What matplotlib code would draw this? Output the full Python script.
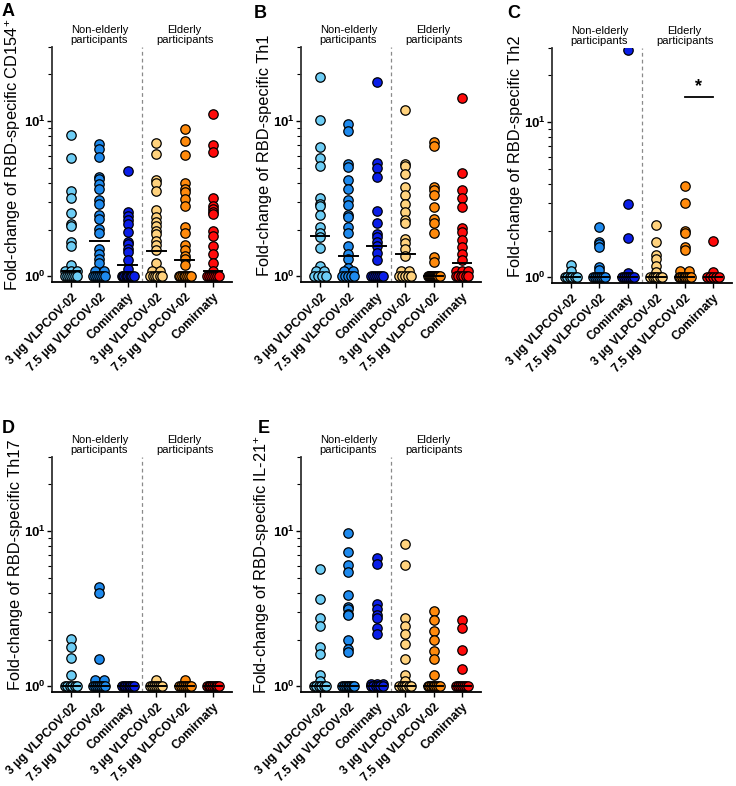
import numpy as np
import matplotlib
matplotlib.use("Agg")
import matplotlib.pyplot as plt
from matplotlib.ticker import LogLocator, NullFormatter

plt.rcParams['font.family'] = ['Liberation Sans', 'DejaVu Sans']
plt.rcParams['mathtext.fontset'] = 'custom'
plt.rcParams['mathtext.rm'] = 'Liberation Sans'
plt.rcParams['mathtext.bf'] = 'Liberation Sans:bold'

groups = ['3 µg VLPCOV-02', '7.5 µg VLPCOV-02', 'Comirnaty',
          '3 µg VLPCOV-02', '7.5 µg VLPCOV-02', 'Comirnaty']
colors = ['#6DCDF5', '#1E8AEE', '#0A1EE8', '#FFD27D', '#FF8A0C', '#FF0A0A']

# A: CD154+
A1 = [8.1, 5.8, 3.56, 3.19, 2.55, 2.18, 2.10, 1.66, 1.58, 1.18, 1.08, 1.08, 1.08, 1, 1, 1, 1, 1, 1, 1]
A2 = [7.08, 6.58, 5.88, 4.38, 4.23, 3.93, 3.65, 3.12, 2.92, 2.48, 2.34, 2.02, 1.90, 1.50, 1.40, 1.30,
      1.22, 1.09, 1.09, 1, 1, 1, 1, 1, 1, 1]
A3 = [4.78, 2.58, 2.46, 2.29, 2.18, 1.92, 1.66, 1.62, 1.50, 1.43, 1.27, 1.12, 1, 1, 1, 1, 1, 1, 1, 1, 1, 1]
A4 = [7.19, 6.18, 4.17, 3.97, 3.56, 2.67, 2.40, 2.23, 2.12, 1.97, 1.88, 1.68, 1.60, 1.48, 1.22, 1.09,
      1.09, 1, 1, 1, 1, 1, 1]
A5 = [8.93, 7.45, 6.05, 3.97, 3.68, 3.47, 3.15, 2.83, 2.07, 1.90, 1.60, 1.48, 1.36, 1.30, 1.19,
      1, 1, 1, 1, 1, 1, 1, 1]
A6 = [11.1, 7.02, 6.36, 3.18, 2.83, 2.72, 2.58, 2.52, 1.97, 1.83, 1.58, 1.40, 1.22, 1.09, 1, 1, 1, 1, 1, 1, 1]
A_med = [1.08, 1.70, 1.18, 1.45, 1.28, 1.08]

# B: Th1
B1 = [19.2, 10.1, 6.81, 5.77, 5.15, 3.19, 2.92, 2.85, 2.50, 2.07, 1.90, 1.79, 1.52, 1.17, 1.08, 1.08, 1, 1, 1, 1]
B2 = [9.61, 8.63, 5.33, 5.07, 4.17, 3.65, 3.10, 2.89, 2.48, 2.40, 2.07, 1.90, 1.58, 1.40, 1.30, 1.14,
      1.08, 1.08, 1, 1, 1, 1, 1]
B3 = [17.9, 5.36, 5.02, 4.38, 2.65, 2.20, 1.88, 1.79, 1.66, 1.58, 1.41, 1.27, 1, 1, 1, 1, 1, 1, 1]
B4 = [11.8, 5.33, 5.15, 4.55, 3.79, 3.36, 2.92, 2.58, 2.29, 2.20, 1.74, 1.64, 1.50, 1.36, 1.09, 1.09, 1, 1, 1, 1, 1]
B5 = [7.37, 6.92, 3.74, 3.59, 3.36, 2.81, 2.34, 2.20, 1.90, 1.34, 1.24, 1, 1, 1, 1, 1, 1, 1, 1, 1, 1, 1, 1]
B6 = [14.0, 4.62, 3.59, 3.19, 2.78, 2.05, 1.92, 1.72, 1.54, 1.40, 1.27, 1.09, 1.09, 1.09, 1, 1, 1, 1, 1, 1]
B_med = [1.81, 1.36, 1.58, 1.40, 1.0, 1.22]

# C: Th2
C1 = [1.20, 1.10, 1, 1, 1, 1, 1, 1]
C2 = [2.10, 1.70, 1.64, 1.58, 1.17, 1.11, 1, 1, 1, 1, 1, 1, 1]
C3 = [29.0, 2.97, 1.79, 1.07, 1, 1, 1, 1, 1, 1, 1]
C4 = [2.18, 1.68, 1.39, 1.31, 1.18, 1.09, 1, 1, 1, 1, 1, 1]
C5 = [3.88, 3.00, 2.00, 1.92, 1.58, 1.50, 1.10, 1.10, 1, 1, 1, 1, 1, 1, 1, 1]
C6 = [1.72, 1.09, 1, 1, 1, 1, 1]
C_med = [1, 1, 1, 1, 1, 1]

# D: Th17
D1 = [2.01, 1.80, 1.53, 1.19, 1, 1, 1, 1, 1, 1]
D2 = [4.35, 4.02, 1.50, 1.10, 1.10, 1, 1, 1, 1, 1, 1, 1]
D3 = [1, 1, 1, 1, 1, 1, 1, 1]
D4 = [1.10, 1, 1, 1, 1, 1, 1, 1]
D5 = [1.10, 1, 1, 1, 1, 1, 1, 1]
D6 = [1, 1, 1, 1, 1, 1, 1, 1]
D_med = [1, 1, 1, 1, 1, 1]

# E: IL-21+
E1 = [5.66, 3.68, 2.77, 2.44, 1.80, 1.62, 1.18, 1.09, 1, 1, 1, 1, 1, 1]
E2 = [9.76, 7.36, 6.04, 5.47, 3.87, 3.25, 3.17, 2.94, 2.88, 2.00, 1.75, 1.67, 1, 1, 1, 1, 1, 1, 1, 1]
E3 = [6.73, 6.10, 3.41, 3.17, 2.87, 2.77, 2.39, 2.19, 1.04, 1.04, 1.04, 1, 1, 1, 1, 1, 1]
E4 = [8.24, 6.04, 2.77, 2.44, 2.16, 1.88, 1.49, 1.19, 1.08, 1, 1, 1, 1, 1, 1]
E5 = [3.05, 2.69, 2.28, 1.98, 1.69, 1.49, 1.19, 1, 1, 1, 1, 1, 1, 1, 1]
E6 = [2.69, 2.39, 1.71, 1.29, 1, 1, 1, 1, 1, 1, 1]
E_med = [1, 1, 1, 1, 1, 1]

panels = [
    ('A', 'Fold-change of RBD-specific CD154$^{+}$', [A1, A2, A3, A4, A5, A6], A_med),
    ('B', 'Fold-change of RBD-specific Th1', [B1, B2, B3, B4, B5, B6], B_med),
    ('C', 'Fold-change of RBD-specific Th2', [C1, C2, C3, C4, C5, C6], C_med),
    ('D', 'Fold-change of RBD-specific Th17', [D1, D2, D3, D4, D5, D6], D_med),
    ('E', 'Fold-change of RBD-specific IL-21$^{+}$', [E1, E2, E3, E4, E5, E6], E_med),
]

W, H = 736, 786
# 各子图坐标轴位置（像素）: 左, 上
boxes = {'A': (52, 47), 'B': (301, 47), 'C': (552, 48), 'D': (52, 457), 'E': (301, 457)}
ax_w, ax_h = 180, 235
letters = {'A': (2, 3), 'B': (254, 5), 'C': (507, 5), 'D': (2, 420), 'E': (258, 420)}


def spread(vals, w_max=0.21, step=0.3):
    # 相同数值的点横向散开
    vals = np.asarray(vals, dtype=float)
    xs = np.zeros(len(vals))
    for v in np.unique(vals):
        idx = np.where(vals == v)[0]
        k = len(idx)
        if k > 1:
            half = min((k - 1) / 2 * step, w_max)
            xs[idx] = np.linspace(-half, half, k)
    return xs


fig = plt.figure(figsize=(W / 100, H / 100), dpi=100)

for key, ylabel, data, med in panels:
    left, top = boxes[key]
    ax = fig.add_axes([left / W, 1 - (top + ax_h) / H, ax_w / W, ax_h / H])
    for i, vals in enumerate(data):
        xs = i + spread(vals)
        ax.scatter(xs, vals, s=46, c=colors[i], edgecolors='black', linewidths=0.9, zorder=3)
        ax.plot([i - 0.33, i + 0.33], [med[i], med[i]], color='black', lw=1.4, zorder=4)

    ax.set_yscale('log')
    ax.set_ylim(0.92, 30)
    ax.set_xlim(-0.67, 5.67)
    ax.axvline(2.5, color='#8a8a8a', lw=0.9, ls=(0, (3, 2.5)), zorder=1)

    ax.set_yticks([1, 10])
    ax.set_yticklabels([r'$\mathbf{10^{0}}$', r'$\mathbf{10^{1}}$'], fontsize=9.5)
    ax.yaxis.set_minor_locator(LogLocator(base=10, subs=np.arange(2, 10)))
    ax.yaxis.set_minor_formatter(NullFormatter())
    ax.set_xticks(range(6))
    ax.set_xticklabels(groups, rotation=45, ha='right', rotation_mode='anchor',
                       fontsize=8.7, fontweight='bold')
    ax.tick_params(axis='both', which='major', length=3.5, width=1.0, pad=1)
    ax.tick_params(axis='x', which='major', pad=3)
    ax.tick_params(axis='y', which='minor', length=3, width=0.8)
    ax.set_ylabel(ylabel, fontsize=11.8)
    ax.yaxis.set_label_coords(-29 / ax_w, 0.54)

    for s in ['top', 'right']:
        ax.spines[s].set_visible(False)
    for s in ['left', 'bottom']:
        ax.spines[s].set_linewidth(1.3)
    ax.spines['left'].set_color('#333333')

    tr = ax.get_xaxis_transform()
    ax.text(1, 1.01, 'Non-elderly\nparticipants', transform=tr, ha='center', va='bottom',
            fontsize=8, linespacing=1.0)
    ax.text(4, 1.01, 'Elderly\nparticipants', transform=tr, ha='center', va='bottom',
            fontsize=8, linespacing=1.0)

    lx, ly = letters[key]
    fig.text(lx / W, 1 - ly / H, key, fontsize=13, fontweight='bold', va='top', ha='left')

    if key == 'C':
        ax.plot([4, 5], [14.6, 14.6], color='black', lw=1.3)
        ax.text(4.5, 15.0, '*', ha='center', va='bottom', fontsize=13, fontweight='bold')

fig.savefig('out.png', dpi=100)
